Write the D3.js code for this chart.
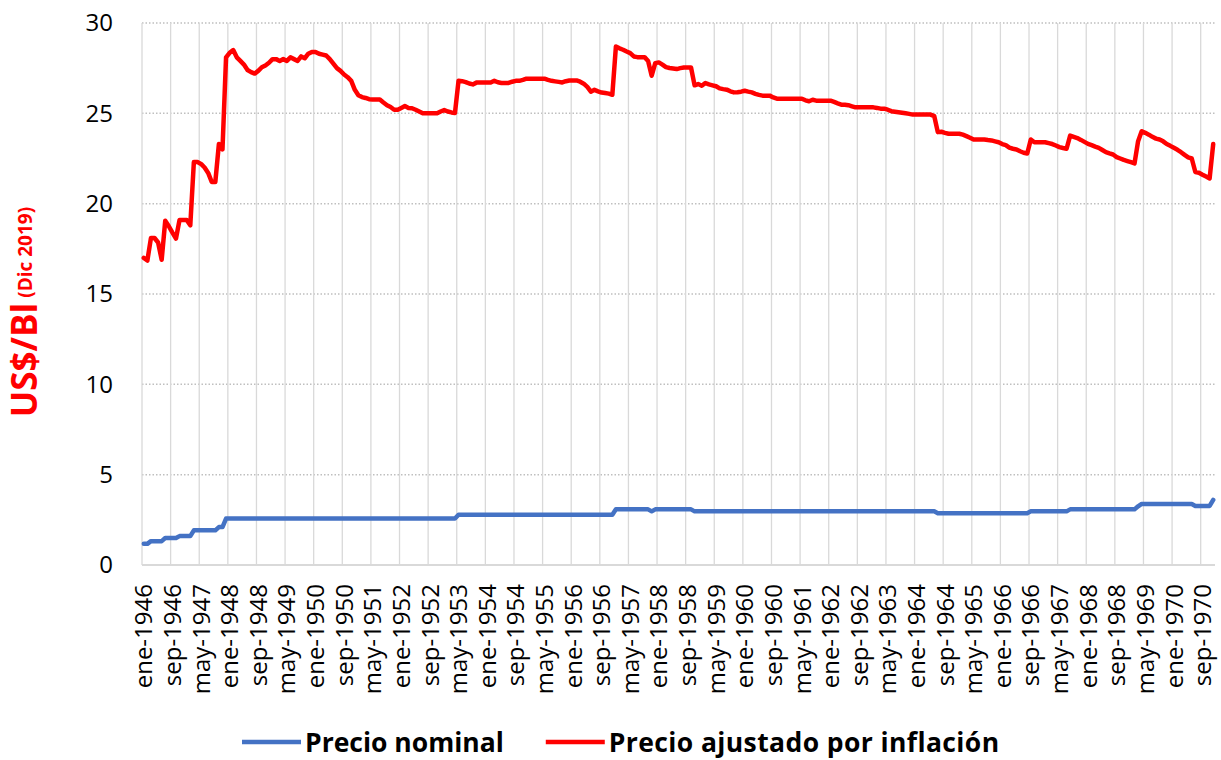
<!DOCTYPE html>
<html>
<head>
<meta charset="utf-8">
<script src="https://cdn.jsdelivr.net/npm/d3@7"></script>
<style>
  html, body { margin: 0; padding: 0; background: #fff; }
  svg { display: block; font-family: "Open Sans", sans-serif; }
</style>
</head>
<body>
<div id="chart"></div>
<script>
const monthNames = ['ene', 'feb', 'mar', 'abr', 'may', 'jun', 'jul', 'ago', 'sep', 'oct', 'nov', 'dic'];
const years = d3.range(1946, 1971);
const categories = [];
years.forEach(yr => monthNames.forEach(m => categories.push(`${m}-${yr}`)));

const xTickLabels = [
  'ene-1946', 'sep-1946', 'may-1947', 'ene-1948', 'sep-1948', 'may-1949', 'ene-1950', 'sep-1950',
  'may-1951', 'ene-1952', 'sep-1952', 'may-1953', 'ene-1954', 'sep-1954', 'may-1955', 'ene-1956',
  'sep-1956', 'may-1957', 'ene-1958', 'sep-1958', 'may-1959', 'ene-1960', 'sep-1960', 'may-1961',
  'ene-1962', 'sep-1962', 'may-1963', 'ene-1964', 'sep-1964', 'may-1965', 'ene-1966', 'sep-1966',
  'may-1967', 'ene-1968', 'sep-1968', 'may-1969', 'ene-1970', 'sep-1970'
];
const yTicks = [0, 5, 10, 15, 20, 25, 30];
const seriesNames = ['Precio nominal', 'Precio ajustado por inflación'];

// US$ nominal, one row per year (ene..dic)
const nominal = [
  1.17, 1.17, 1.32, 1.32, 1.32, 1.32, 1.49, 1.49, 1.49, 1.49, 1.60, 1.60,
  1.60, 1.60, 1.92, 1.92, 1.92, 1.92, 1.92, 1.92, 1.92, 2.10, 2.10, 2.57,
  2.57, 2.57, 2.57, 2.57, 2.57, 2.57, 2.57, 2.57, 2.57, 2.57, 2.57, 2.57,
  2.57, 2.57, 2.57, 2.57, 2.57, 2.57, 2.57, 2.57, 2.57, 2.57, 2.57, 2.57,
  2.57, 2.57, 2.57, 2.57, 2.57, 2.57, 2.57, 2.57, 2.57, 2.57, 2.57, 2.57,
  2.57, 2.57, 2.57, 2.57, 2.57, 2.57, 2.57, 2.57, 2.57, 2.57, 2.57, 2.57,
  2.57, 2.57, 2.57, 2.57, 2.57, 2.57, 2.57, 2.57, 2.57, 2.57, 2.57, 2.57,
  2.57, 2.57, 2.57, 2.57, 2.78, 2.78, 2.78, 2.78, 2.78, 2.78, 2.78, 2.78,
  2.78, 2.78, 2.78, 2.78, 2.78, 2.78, 2.78, 2.78, 2.78, 2.78, 2.78, 2.78,
  2.78, 2.78, 2.78, 2.78, 2.78, 2.78, 2.78, 2.78, 2.78, 2.78, 2.78, 2.78,
  2.78, 2.78, 2.78, 2.78, 2.78, 2.78, 2.78, 2.78, 2.78, 2.78, 2.78, 2.78,
  3.08, 3.08, 3.08, 3.08, 3.08, 3.08, 3.08, 3.08, 3.08, 3.08, 2.97, 3.08,
  3.08, 3.08, 3.08, 3.08, 3.08, 3.08, 3.08, 3.08, 3.08, 3.08, 2.97, 2.97,
  2.97, 2.97, 2.97, 2.97, 2.97, 2.97, 2.97, 2.97, 2.97, 2.97, 2.97, 2.97,
  2.97, 2.97, 2.97, 2.97, 2.97, 2.97, 2.97, 2.97, 2.97, 2.97, 2.97, 2.97,
  2.97, 2.97, 2.97, 2.97, 2.97, 2.97, 2.97, 2.97, 2.97, 2.97, 2.97, 2.97,
  2.97, 2.97, 2.97, 2.97, 2.97, 2.97, 2.97, 2.97, 2.97, 2.97, 2.97, 2.97,
  2.97, 2.97, 2.97, 2.97, 2.97, 2.97, 2.97, 2.97, 2.97, 2.97, 2.97, 2.97,
  2.97, 2.97, 2.97, 2.97, 2.97, 2.97, 2.87, 2.87, 2.87, 2.87, 2.87, 2.87,
  2.87, 2.87, 2.87, 2.87, 2.87, 2.87, 2.87, 2.87, 2.87, 2.87, 2.87, 2.87,
  2.87, 2.87, 2.87, 2.87, 2.87, 2.87, 2.87, 2.87, 2.97, 2.97, 2.97, 2.97,
  2.97, 2.97, 2.97, 2.97, 2.97, 2.97, 2.97, 3.08, 3.08, 3.08, 3.08, 3.08,
  3.08, 3.08, 3.08, 3.08, 3.08, 3.08, 3.08, 3.08, 3.08, 3.08, 3.08, 3.08,
  3.08, 3.08, 3.25, 3.38, 3.38, 3.38, 3.38, 3.38, 3.38, 3.38, 3.38, 3.38,
  3.38, 3.38, 3.38, 3.38, 3.38, 3.38, 3.27, 3.27, 3.27, 3.27, 3.27, 3.60
];

// US$ of dic-2019
const adjusted = [
  17.0, 16.85, 18.1, 18.1, 17.85, 16.9, 19.05, 18.75, 18.4, 18.07, 19.1, 19.1,
  19.1, 18.8, 22.3, 22.3, 22.2, 22.0, 21.7, 21.2, 21.2, 23.3, 23.0, 28.1,
  28.35, 28.5, 28.1, 27.9, 27.7, 27.4, 27.28, 27.2, 27.35, 27.55, 27.65, 27.8,
  28.0, 28.0, 27.9, 28.0, 27.9, 28.1, 28.0, 27.9, 28.15, 28.05, 28.3, 28.4,
  28.4, 28.3, 28.25, 28.2, 28.0, 27.75, 27.5, 27.35, 27.15, 27.0, 26.8, 26.3,
  26.0, 25.9, 25.85, 25.78, 25.76, 25.76, 25.76, 25.6, 25.45, 25.35, 25.2, 25.2,
  25.3, 25.4, 25.3, 25.28, 25.2, 25.1, 25.0, 25.0, 25.0, 25.0, 25.0, 25.1,
  25.18, 25.1, 25.05, 25.02, 26.8, 26.78, 26.73, 26.65, 26.6, 26.7, 26.71, 26.71,
  26.71, 26.71, 26.8, 26.72, 26.68, 26.68, 26.68, 26.75, 26.8, 26.8, 26.85, 26.92,
  26.92, 26.92, 26.92, 26.92, 26.92, 26.85, 26.8, 26.77, 26.74, 26.71, 26.78, 26.82,
  26.82, 26.82, 26.75, 26.64, 26.46, 26.2, 26.3, 26.22, 26.15, 26.12, 26.09, 26.03,
  28.7, 28.6, 28.52, 28.42, 28.33, 28.15, 28.11, 28.11, 28.11, 27.9, 27.08, 27.78,
  27.82, 27.7, 27.56, 27.51, 27.48, 27.45, 27.5, 27.54, 27.54, 27.54, 26.55, 26.62,
  26.53, 26.68, 26.6, 26.55, 26.5, 26.38, 26.34, 26.31, 26.22, 26.16, 26.17, 26.2,
  26.25, 26.2, 26.16, 26.08, 26.02, 25.98, 25.98, 25.98, 25.88, 25.81, 25.81, 25.81,
  25.81, 25.81, 25.81, 25.81, 25.81, 25.72, 25.67, 25.75, 25.7, 25.7, 25.7, 25.7,
  25.7, 25.63, 25.55, 25.48, 25.48, 25.45, 25.39, 25.33, 25.33, 25.33, 25.33, 25.33,
  25.33, 25.3, 25.26, 25.26, 25.2, 25.12, 25.09, 25.06, 25.03, 25.0, 24.97, 24.93,
  24.93, 24.93, 24.93, 24.93, 24.93, 24.85, 23.96, 23.98, 23.92, 23.87, 23.87, 23.87,
  23.87, 23.82, 23.74, 23.65, 23.55, 23.55, 23.55, 23.55, 23.52, 23.5, 23.45, 23.4,
  23.3, 23.24, 23.1, 23.04, 23.0, 22.9, 22.82, 22.78, 23.55, 23.4, 23.4, 23.4,
  23.4, 23.35, 23.3, 23.22, 23.13, 23.08, 23.04, 23.77, 23.7, 23.63, 23.53, 23.42,
  23.31, 23.24, 23.16, 23.09, 22.97, 22.85, 22.78, 22.72, 22.58, 22.5, 22.42, 22.36,
  22.3, 22.23, 23.46, 24.01, 23.92, 23.82, 23.7, 23.6, 23.55, 23.45, 23.3, 23.2,
  23.09, 22.98, 22.85, 22.7, 22.56, 22.5, 21.75, 21.71, 21.6, 21.5, 21.4, 23.3
];

const colors = ['#4472C4', '#FF0000'];

const width = 1221, height = 760;
const margin = { top: 23, right: 6, bottom: 195, left: 142 };
const w = width - margin.left - margin.right;
const h = height - margin.top - margin.bottom;

const root = d3.select('#chart').append('svg')
  .attr('width', width)
  .attr('height', height);

const svg = root.append('g')
  .attr('transform', `translate(${margin.left},${margin.top})`);

const x = d3.scaleBand().domain(categories).range([0, w]).padding(0);
const y = d3.scaleLinear().domain([0, 30]).range([h, 0]);
const cx = d => x(d) + x.bandwidth() / 2;

// grid
svg.append('g')
  .selectAll('line')
  .data(yTicks.filter(t => t > 0))
  .enter().append('line')
  .attr('x1', 0).attr('x2', w)
  .attr('y1', d => y(d)).attr('y2', d => y(d))
  .attr('stroke', '#BFBFBF')
  .attr('stroke-width', 1.5)
  .attr('stroke-dasharray', '1.5,2');

svg.append('g')
  .selectAll('line')
  .data(xTickLabels)
  .enter().append('line')
  .attr('x1', d => x(d)).attr('x2', d => x(d))
  .attr('y1', 0).attr('y2', h)
  .attr('stroke', '#D9D9D9')
  .attr('stroke-width', 1.3);

svg.append('line')
  .attr('x1', 0).attr('x2', w)
  .attr('y1', h).attr('y2', h)
  .attr('stroke', '#D9D9D9')
  .attr('stroke-width', 1.8);

// Y Axis
const yAxis = svg.append('g')
  .call(d3.axisLeft(y).tickValues(yTicks).tickSize(0).tickPadding(29));
yAxis.select('.domain').remove();
yAxis.selectAll('text')
  .attr('font-family', '"Open Sans", sans-serif')
  .attr('font-size', 24)
  .attr('fill', '#000');

// X Axis
const xAxis = svg.append('g')
  .attr('transform', `translate(0,${h})`)
  .call(d3.axisBottom(x).tickValues(xTickLabels).tickSize(0));
xAxis.select('.domain').remove();
xAxis.selectAll('text')
  .attr('font-family', '"Open Sans", sans-serif')
  .attr('font-size', 24)
  .attr('fill', '#000')
  .attr('text-anchor', 'end')
  .attr('transform', 'rotate(-90)')
  .attr('x', -19)
  .attr('y', 0)
  .attr('dy', '0.36em');

// Lines
const line = d3.line()
  .x((d, i) => cx(categories[i]))
  .y(d => y(d));

[nominal, adjusted].forEach((values, k) => {
  svg.append('path')
    .datum(values)
    .attr('fill', 'none')
    .attr('stroke', colors[k])
    .attr('stroke-width', 4.5)
    .attr('stroke-linejoin', 'round')
    .attr('stroke-linecap', 'round')
    .attr('d', line);
});

// Y title
const title = root.append('text')
  .attr('transform', 'translate(37,312) rotate(-90)')
  .attr('text-anchor', 'middle')
  .attr('fill', '#FF0000')
  .attr('font-weight', 'bold');
title.append('tspan').attr('font-size', 35).text('US$/Bl');
title.append('tspan').attr('font-size', 19).attr('dy', -5).text(' (Dic 2019)');

// Legend
const legend = root.append('g').attr('transform', 'translate(242,742)');
let lx = 0;
seriesNames.forEach((name, k) => {
  legend.append('line')
    .attr('x1', lx).attr('x2', lx + 59)
    .attr('y1', 0).attr('y2', 0)
    .attr('stroke', colors[k])
    .attr('stroke-width', 4.5);
  const t = legend.append('text')
    .attr('x', lx + 63)
    .attr('dy', '0.36em')
    .attr('font-size', 26.5)
    .attr('font-weight', 'bold')
    .attr('letter-spacing', k === 1 ? 0.4 : 0)
    .attr('fill', '#000')
    .text(name);
  lx += 63 + t.node().getComputedTextLength() + 42;
});
</script>
</body>
</html>
